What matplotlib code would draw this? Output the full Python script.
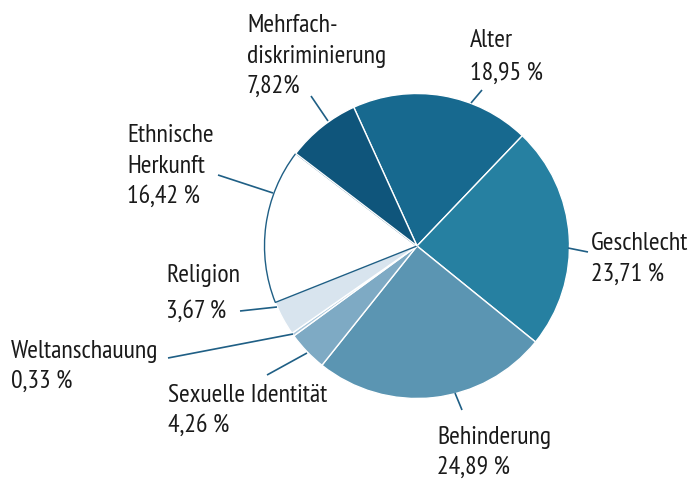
import matplotlib.pyplot as plt

# Anteile der Diskriminierungsmerkmale (im Uhrzeigersinn ab "Alter")
merkmale = ["Alter", "Geschlecht", "Behinderung", "Sexuelle Identität",
            "Weltanschauung", "Religion", "Ethnische Herkunft",
            "Mehrfachdiskriminierung"]
anteile = [18.95, 23.71, 24.89, 4.26, 0.33, 3.67, 16.42, 7.82]
beschriftungen = [
    "Alter\n18,95 %",
    "Geschlecht\n23,71 %",
    "Behinderung\n24,89 %",
    "Sexuelle Identität\n4,26 %",
    "Weltanschauung\n0,33 %",
    "Religion\n3,67 %",
    "Ethnische\nHerkunft\n16,42 %",
    "Mehrfach-\ndiskriminierung\n7,82%",
]
farben = ["#17698f", "#2680a1", "#5b95b2", "#7eaac4",
          "#a9c6da", "#d8e4ee", "#ffffff", "#0f557b"]

linie = "#1f5f85"
H = 479  # Bildhöhe in Pixeln, für y-Umrechnung

# Textposition (links, Grundlinie erste Zeile), Zeilenabstand, Hinweislinie
text_pos = [(470, 47), (591, 250), (437, 444), (168, 402),
            (11, 358), (166, 282), (127, 142), (247, 32)]
zeilen_abstand = [33, 31, 30, 30, 30, 36, 30.5, 30.5]
hinweis = [((482, 90), (471, 103)),
           ((588, 252), (568, 248)),
           ((462, 410), (455, 393)),
           ((267, 375), (307, 353)),
           ((168, 358), (293, 334)),
           ((240, 311), (277, 307)),
           ((218, 175), (273, 193)),
           ((311, 96), (328, 121))]

fig = plt.figure(figsize=(6.91, 4.79), dpi=100)
ax = fig.add_axes([0, 0, 1, 1])

wedges, _ = ax.pie(anteile, colors=farben, startangle=114.5, counterclock=False,
                   center=(417, H - 246), radius=152.5,
                   wedgeprops=dict(edgecolor="white", linewidth=1.0))
# weißes Segment mit blauer Kontur
wedges[6].set_edgecolor(linie)
wedges[6].set_linewidth(1.0)
wedges[7].set_zorder(wedges[6].get_zorder() + 0.1)

ax.set_xlim(0, 691)
ax.set_ylim(0, H)
ax.set_aspect("equal")
ax.axis("off")

schrift = ["PT Sans Narrow", "DejaVu Sans"]
for text, (x, y), dy, ((x1, y1), (x2, y2)) in zip(beschriftungen, text_pos,
                                                    zeilen_abstand, hinweis):
    for i, zeile in enumerate(text.split("\n")):
        ax.text(x, H - (y + i * dy), zeile, ha="left", va="baseline",
                fontsize=18.5, color="#1a1a1a", family=schrift)
    ax.plot([x1, x2], [H - y1, H - y2], color=linie, linewidth=1.2,
            solid_capstyle="butt")

fig.savefig("out.png", dpi=100)
